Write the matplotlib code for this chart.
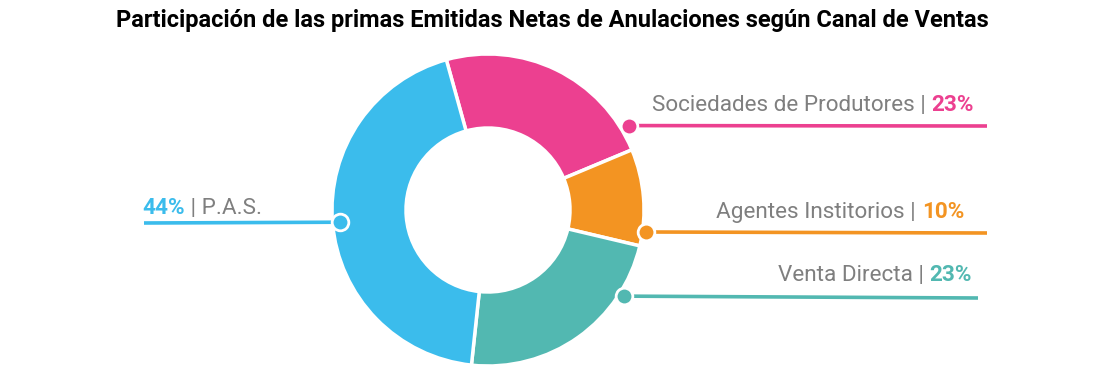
import matplotlib
matplotlib.use("Agg")
import matplotlib.pyplot as plt
import numpy as np

# ---- data ----
categories = ["Sociedades de Produtores", "Agentes Institorios", "Venta Directa", "P.A.S."]
values = [23, 10, 23, 44]
pct_labels = ["23%", "10%", "23%", "44%"]
colors = ["#EC4090", "#F39422", "#52B8B1", "#3BBCEC"]
title = "Participación de las primas Emitidas Netas de Anulaciones según Canal de Ventas"

# ---- style / layout (pixel coordinates, y downward) ----
W, H = 1105, 388
center = (488, 210)
r_out, r_in = 156, 82
start_visual = 105.5           # visual angle (deg, ccw from +x) where first slice starts
marker_frac = [0.90, 0.85, 0.23, 0.50]   # position of marker along each slice
marker_rad = [164, 160, 161, 149]
line_end = [(987, 126), (987, 233), (978, 298), (144, 223)]
text_anchor = [(974, 111), (964, 218), (972, 281), (142, 214)]
text_side = ["right", "right", "right", "left"]
gray = "#7F7F7F"
fs = 16.2

fig = plt.figure(figsize=(W / 100, H / 100), dpi=100)
ax = fig.add_axes([0, 0, 1, 1])

# y inverted: ccw in data == clockwise visually
ax.pie(values, colors=colors, startangle=-start_visual, counterclock=True,
       center=center, radius=r_out, frame=True,
       wedgeprops=dict(width=r_out - r_in, edgecolor="white", linewidth=2.5))
ax.set_xlim(0, W)
ax.set_ylim(H, 0)
ax.set_aspect("equal")
ax.axis("off")

fig.text(0.5, 1 - 21 / H, title, ha="center", va="center", fontsize=17,
         fontweight="bold", family="Roboto", color="black")

renderer = fig.canvas.get_renderer()
total = float(sum(values))
cum = 0.0
for i, v in enumerate(values):
    a0 = start_visual - 360 * cum / total
    a1 = start_visual - 360 * (cum + v) / total
    cum += v
    am = np.deg2rad(a0 + (a1 - a0) * marker_frac[i])
    mx = center[0] + marker_rad[i] * np.cos(am)
    my = center[1] - marker_rad[i] * np.sin(am)
    ex, ey = line_end[i]
    ax.plot([mx, ex], [my, ey], color=colors[i], lw=2.6, solid_capstyle="butt", zorder=3)
    ax.plot([mx], [my], marker="o", ms=12, mfc=colors[i], mec="white", mew=2, zorder=4)

    tx, ty = text_anchor[i]
    if text_side[i] == "right":
        t1 = ax.text(tx, ty, pct_labels[i], ha="right", va="baseline", fontsize=fs,
                     fontweight="bold", color=colors[i], family="Roboto")
        bb = t1.get_window_extent(renderer)
        x_left = ax.transData.inverted().transform((bb.x0, 0))[0]
        ax.text(x_left, ty, categories[i] + " | ", ha="right", va="baseline", fontsize=fs,
                color=gray, family="Roboto")
    else:
        t1 = ax.text(tx, ty, pct_labels[i], ha="left", va="baseline", fontsize=fs,
                     fontweight="bold", color=colors[i], family="Roboto")
        bb = t1.get_window_extent(renderer)
        x_right = ax.transData.inverted().transform((bb.x1, 0))[0]
        ax.text(x_right, ty, " | " + categories[i], ha="left", va="baseline", fontsize=fs,
                color=gray, family="Roboto")

fig.savefig("out.png", dpi=100)
